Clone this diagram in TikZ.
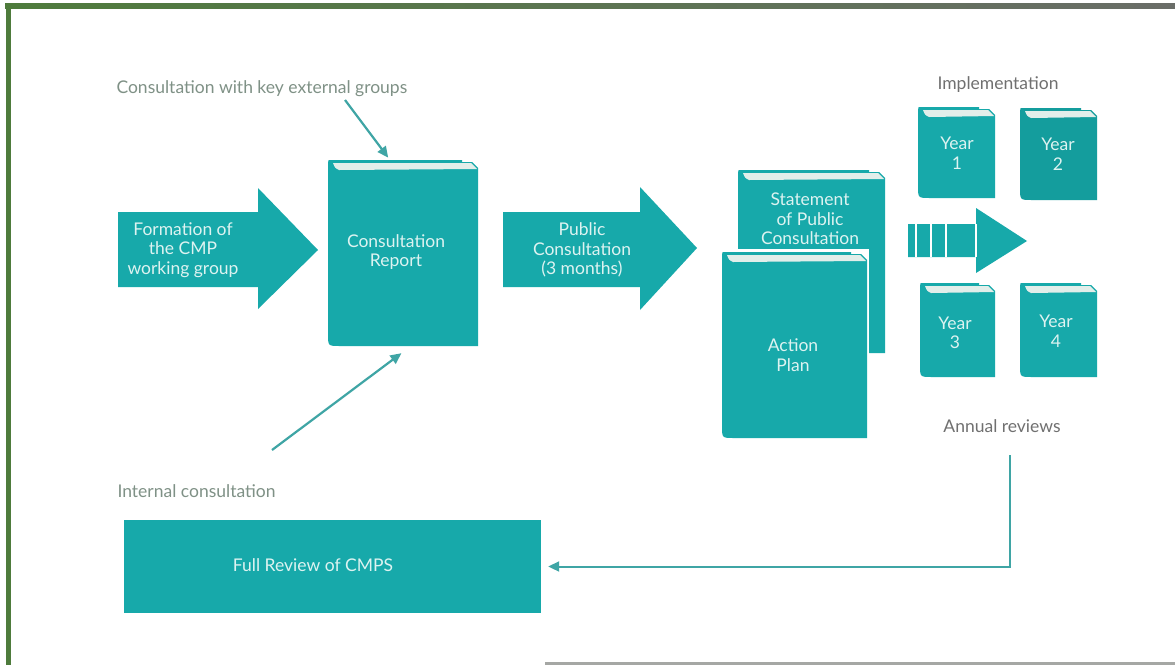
\documentclass[tikz,border=0pt]{standalone}
\usepackage{fontspec}
\setmainfont{Lato}
\usetikzlibrary{arrows.meta}
\definecolor{tealc}{HTML}{17A9AA}
\definecolor{tealdark}{HTML}{149D9D}
\definecolor{labelc}{HTML}{7F9186}
\definecolor{graylab}{HTML}{707070}
\definecolor{intext}{HTML}{DDF3F1}
\definecolor{pagec}{HTML}{E2EEEA}
\definecolor{linec}{HTML}{3FA5A5}
\definecolor{framegreen}{HTML}{4E7B3C}
\definecolor{framegray}{HTML}{6A6D68}

% book: name, x1, y1, x2, y2, colour
\newcommand\bookat[6]{%
  \fill[#6] (#2,#3+3) .. controls (#2,#3) .. (#2+4,#3) -- (#4-16,#3) -- (#4-16,#3+2)
     -- (#4-6,#3+2) -- (#4,#3+8) -- (#4,#5) -- (#2+12,#5) .. controls (#2,#5) .. (#2,#5-12) -- cycle;
  \fill[pagec] (#2+5,#3+3) -- (#4-7,#3+3) -- (#4-1,#3+9) -- (#2+11,#3+10) .. controls (#2+7,#3+8) .. cycle;
  \node[bookframe, minimum width={(#4-#2)*1pt}, minimum height={(#5-#3)*1pt}] (#1) at ({(#2+#4)/2},{(#3+#5)/2}) {};
}

\tikzset{
  bookframe/.style={rectangle, inner sep=0pt, outer sep=0pt},
  intxt/.style={text=intext, align=center, font=\fontsize{17.5}{19.5}\selectfont},
  lab/.style={text=labelc, font=\fontsize{17.5}{19.5}\selectfont},
  glab/.style={text=graylab, font=\fontsize{17.5}{19.5}\selectfont},
  conn/.style={draw=linec, line width=2.2pt, -{Triangle[length=11pt,width=10pt]}},
  blockarrow/.style={fill=tealc},
}

\begin{document}
\begin{tikzpicture}[x=1pt,y=-1pt]
\useasboundingbox (0,0) rectangle (1175,665);
\fill[white] (0,0) rectangle (1175,665);

% frame
\shade[left color=framegreen, right color=framegray] (5,3) rectangle (1175,8);
\fill[framegreen] (6,3) rectangle (11,665);
\fill[framegray!60] (545,662) rectangle (1175,665);

% block arrow: formation
\fill[blockarrow] (118,212) -- (258,212) -- (258,188) -- (318,250) -- (258,309) -- (258,287) -- (118,287) -- cycle;
\node[intxt] (form) at (183,250) {Formation of\\the CMP\\working group};

% consultation report book
\bookat{crbook}{328}{160}{478}{346}{tealc}
\node[intxt] (crtext) at (396,252) {Consultation\\Report};

% public consultation arrow
\fill[blockarrow] (503,212) -- (640,212) -- (640,187) -- (697,248) -- (640,310) -- (640,287) -- (503,287) -- cycle;
\node[intxt] (pub) at (582,250) {Public\\Consultation\\(3 months)};

% statement & action plan
\bookat{stbook}{738}{170}{885}{353}{tealc}
\node[intxt] (sttext) at (810,219) {Statement\\of Public\\Consultation};
\fill[white] (718,249) rectangle (869,440);
\bookat{apbook}{722}{252}{867}{438}{tealc}
\node[intxt] (aptext) at (793,355) {Action\\Plan};

% striped arrow
\fill[blockarrow] (908,224) -- (976,224) -- (976,208) -- (1027,241) -- (976,273) -- (976,257) -- (908,257) -- cycle;
\foreach \sx in {915,930,945,975}
  \fill[white] (\sx,224) rectangle (\sx+1.5,257);

% year books
\bookat{y1}{918}{107}{995}{198}{tealc}
\node[intxt] (y1t) at (957,153) {Year\\1};
\bookat{y2}{1020}{108}{1097}{200}{tealdark}
\node[intxt] (y2t) at (1058,154) {Year\\2};
\bookat{y3}{920}{283}{995}{377}{tealc}
\node[intxt] (y3t) at (955,333) {Year\\3};
\bookat{y4}{1020}{283}{1097}{377}{tealc}
\node[intxt] (y4t) at (1056,331) {Year\\4};

\node[glab] (impl) at (998,85) {Implementation};
\node[glab] (annual) at (1002,426) {Annual reviews};

% labels
\node[lab, anchor=west] (ext) at (113,89) {Consultation with key external groups};
\node[lab, anchor=west] (int) at (114,491) {Internal consultation};

% full review box
\node[fill=tealc, minimum width=417pt, minimum height=93pt, inner sep=0pt] (review) at (332.5,566.5) {};
\node[intxt] (revtext) at (313,565) {Full Review of CMPS};

% connectors
\coordinate (extstart) at (345,100);
\coordinate (intstart) at (272,450);
\coordinate (revstart) at (1010,455);
\draw[conn, shorten >=3pt] (extstart) -- ([xshift=-13pt]crbook.north);
\draw[conn, shorten >=12pt] (intstart) -- ([xshift=8pt]crbook.south);
\draw[conn, line width=2pt, shorten >=7pt] (revstart) |- (review.east);
\end{tikzpicture}
\end{document}
